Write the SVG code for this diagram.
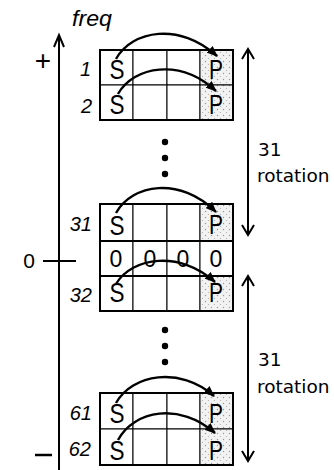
<svg xmlns="http://www.w3.org/2000/svg" width="334" height="470" viewBox="0 0 334 470">
<style>
.it{font-family:"Liberation Sans",Arial,sans-serif;font-style:italic;font-size:20px;fill:#000;text-anchor:end}
.sp{font-family:"Liberation Sans",Arial,sans-serif;font-size:27px;fill:#000;text-anchor:middle}
.z{font-family:"Liberation Sans",Arial,sans-serif;font-size:23px;fill:#000;text-anchor:middle}
.lb{font-family:"DejaVu Sans",sans-serif;font-size:18.5px;fill:#000}
.ax{font-family:"Liberation Sans",Arial,sans-serif;fill:#000;text-anchor:middle}
.cell{fill:#fff;stroke:#000;stroke-width:1}
.pc{fill:url(#dots);stroke:#000;stroke-width:1}
.out{fill:none;stroke:#000;stroke-width:2}
.arc{fill:none;stroke:#000;stroke-width:2.4;marker-end:url(#ah)}
.ln{stroke:#000;stroke-width:2;fill:none}
.rot{stroke:#000;stroke-width:2;marker-start:url(#ahs);marker-end:url(#ahs)}
</style>
<defs>
<pattern id="dots" width="6" height="6" patternUnits="userSpaceOnUse">
<rect width="6" height="6" fill="#f2f2f2"/>
<circle cx="1.5" cy="1.5" r="0.7" fill="#999"/>
<circle cx="4.5" cy="4.5" r="0.6" fill="#aaa"/>
</pattern>
<marker id="ah" markerWidth="11" markerHeight="9" refX="10" refY="4.5" orient="auto" markerUnits="userSpaceOnUse">
<path d="M0,0 L11,4.5 L0,9 Z" fill="#000"/>
</marker>
<marker id="ahs" markerWidth="12" markerHeight="14" refX="11" refY="6" orient="auto-start-reverse" markerUnits="userSpaceOnUse" overflow="visible">
<path d="M1,0 L11,6 L1,12" fill="none" stroke="#000" stroke-width="2"/>
</marker>
</defs>

<g id="axis">
<line x1="59" y1="36" x2="59" y2="470" class="ln"/>
<path d="M54,47 L59,35 L64,47" class="ln"/>
<text x="72" y="26" style="font-family:'Liberation Sans',Arial,sans-serif;font-style:italic;font-size:22px" textLength="40" lengthAdjust="spacingAndGlyphs">freq</text>
<text x="43" y="70" class="ax" style="font-size:28px">+</text>
<line x1="43" y1="261" x2="76" y2="261" class="ln"/>
<text x="29" y="268" class="ax" style="font-size:21px">0</text>
<line x1="35" y1="455" x2="52" y2="455" stroke="#000" stroke-width="2.5"/>
</g>

<g id="block-top">
<rect x="100" y="50" width="33" height="35" class="cell"/>
<rect x="133" y="50" width="34" height="35" class="cell"/>
<rect x="167" y="50" width="33" height="35" class="cell"/>
<rect x="200" y="50" width="33" height="35" class="pc"/>
<rect x="100" y="85" width="33" height="35" class="cell"/>
<rect x="133" y="85" width="34" height="35" class="cell"/>
<rect x="167" y="85" width="33" height="35" class="cell"/>
<rect x="200" y="85" width="33" height="35" class="pc"/>
<rect x="100" y="50" width="133" height="70" class="out"/>
<text x="91" y="76" class="it">1</text>
<text x="92" y="113" class="it">2</text>
<text x="117" y="79" class="sp" textLength="15" lengthAdjust="spacingAndGlyphs">S</text>
<text x="216" y="79" class="sp" textLength="14" lengthAdjust="spacingAndGlyphs">P</text>
<text x="117" y="114" class="sp" textLength="15" lengthAdjust="spacingAndGlyphs">S</text>
<text x="216" y="114" class="sp" textLength="14" lengthAdjust="spacingAndGlyphs">P</text>
</g>

<g id="block-mid">
<rect x="100" y="204" width="33" height="37" class="cell"/>
<rect x="133" y="204" width="34" height="37" class="cell"/>
<rect x="167" y="204" width="33" height="37" class="cell"/>
<rect x="200" y="204" width="33" height="37" class="pc"/>
<rect x="100" y="241" width="33" height="35" class="cell"/>
<rect x="133" y="241" width="34" height="35" class="cell"/>
<rect x="167" y="241" width="33" height="35" class="cell"/>
<rect x="200" y="241" width="33" height="35" class="cell"/>
<rect x="100" y="276" width="33" height="35" class="cell"/>
<rect x="133" y="276" width="34" height="35" class="cell"/>
<rect x="167" y="276" width="33" height="35" class="cell"/>
<rect x="200" y="276" width="33" height="35" class="pc"/>
<rect x="100" y="204" width="133" height="107" class="out"/>
<line x1="100" y1="241" x2="233" y2="241" class="ln"/>
<line x1="100" y1="276" x2="233" y2="276" class="ln"/>
<text x="92" y="231" class="it">31</text>
<text x="92" y="302" class="it">32</text>
<text x="117" y="235" class="sp" textLength="15" lengthAdjust="spacingAndGlyphs">S</text>
<text x="216" y="234" class="sp" textLength="14" lengthAdjust="spacingAndGlyphs">P</text>
<text x="116" y="267" class="z">0</text>
<text x="150" y="267" class="z">0</text>
<text x="183" y="267" class="z">0</text>
<text x="216" y="267" class="z">0</text>
<text x="117" y="302" class="sp" textLength="15" lengthAdjust="spacingAndGlyphs">S</text>
<text x="216" y="302" class="sp" textLength="14" lengthAdjust="spacingAndGlyphs">P</text>
</g>

<g id="block-bot">
<rect x="100" y="393" width="33" height="36" class="cell"/>
<rect x="133" y="393" width="34" height="36" class="cell"/>
<rect x="167" y="393" width="33" height="36" class="cell"/>
<rect x="200" y="393" width="33" height="36" class="pc"/>
<rect x="100" y="429" width="33" height="36" class="cell"/>
<rect x="133" y="429" width="34" height="36" class="cell"/>
<rect x="167" y="429" width="33" height="36" class="cell"/>
<rect x="200" y="429" width="33" height="36" class="pc"/>
<rect x="100" y="393" width="133" height="72" class="out"/>
<text x="92" y="420" class="it">61</text>
<text x="91" y="456" class="it">62</text>
<text x="117" y="423" class="sp" textLength="15" lengthAdjust="spacingAndGlyphs">S</text>
<text x="216" y="423" class="sp" textLength="14" lengthAdjust="spacingAndGlyphs">P</text>
<text x="117" y="460" class="sp" textLength="15" lengthAdjust="spacingAndGlyphs">S</text>
<text x="216" y="460" class="sp" textLength="14" lengthAdjust="spacingAndGlyphs">P</text>
</g>

<g id="ellipsis">
<circle cx="165" cy="142" r="3.2"/>
<circle cx="165" cy="158" r="3.2"/>
<circle cx="165" cy="174" r="3.2"/>
<circle cx="165" cy="330" r="3.2"/>
<circle cx="165" cy="346" r="3.2"/>
<circle cx="165" cy="362" r="3.2"/>
</g>

<g id="connectors">
<path d="M116,59 C132,30 180,22 217,56" class="arc"/>
<path d="M118,94 C134,66 180,58 216,91" class="arc"/>
<path d="M116,213 C132,184 180,176 216,212" class="arc"/>
<path d="M116,284 C132,257 180,250 215,282" class="arc"/>
<path d="M116,403 C132,374 180,366 214,396" class="arc"/>
<path d="M118,440 C134,410 180,402 215,433" class="arc"/>
</g>

<g id="rot-top">
<line x1="248" y1="49" x2="248" y2="235" class="rot"/>
<text x="258" y="156" class="lb">31</text>
<text x="257" y="182" class="lb">rotation</text>
</g>
<g id="rot-bot">
<line x1="248" y1="276" x2="248" y2="461" class="rot"/>
<text x="258" y="366" class="lb">31</text>
<text x="257" y="393" class="lb">rotation</text>
</g>
</svg>
